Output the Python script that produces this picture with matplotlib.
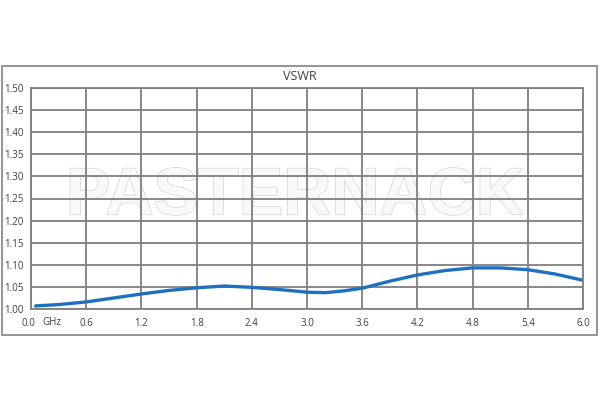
import matplotlib.pyplot as plt
import matplotlib.patheffects as pe
from matplotlib.patches import Rectangle
from matplotlib.transforms import ScaledTranslation

# VSWR readings
freq = [0.05, 0.3, 0.6, 0.9, 1.2, 1.5, 1.8, 2.1, 2.4, 2.7, 3.0, 3.2, 3.4, 3.6,
        3.9, 4.2, 4.5, 4.8, 5.1, 5.4, 5.7, 6.0]
vswr = [1.007, 1.010, 1.016, 1.025, 1.034, 1.042, 1.048, 1.052, 1.049, 1.044,
        1.038, 1.037, 1.041, 1.047, 1.063, 1.077, 1.087, 1.093, 1.093, 1.089,
        1.079, 1.065]
xticks = [0.0, 0.6, 1.2, 1.8, 2.4, 3.0, 3.6, 4.2, 4.8, 5.4, 6.0]
yticks = [1.00, 1.05, 1.10, 1.15, 1.20, 1.25, 1.30, 1.35, 1.40, 1.45, 1.50]

plt.rcParams['font.family'] = ['Open Sans', 'DejaVu Sans']
txt = '#404040'
grid = '#7f7f7f'

fig = plt.figure(figsize=(6, 4), dpi=100, facecolor='white')
fig.patches.append(Rectangle((2/600, 1-335/400), 595/600, 269/400,
                             transform=fig.transFigure, fill=False,
                             edgecolor='#8c8c8c', linewidth=1.3))
fig.text(300/600, 1-77/400, 'VSWR', ha='center', va='center',
         fontsize=9, color=txt)

ax = fig.add_axes([31/600, 1-309/400, 552/600, 221/400])
ax.set_xlim(0, 6.0)
ax.set_ylim(1.0, 1.5)
ax.set_xticks(xticks)
ax.set_xticklabels([f'{v:.1f}' for v in xticks], fontsize=7, color=txt)
ax.set_yticks(yticks)
ax.set_yticklabels([f'{v:.2f}' for v in yticks], fontsize=7, color=txt,
                   ha='left')
ax.tick_params(axis='y', length=0, pad=19)
ax.tick_params(axis='x', length=0, pad=6.5)
ax.grid(True, color=grid, linewidth=1.3)
for s in ax.spines.values():
    s.set_color(grid)
    s.set_linewidth(1.3)
ax.set_axisbelow(True)

# first x label sits a little left, unit beside it
lab0 = ax.get_xticklabels()[0]
lab0.set_transform(lab0.get_transform() +
                   ScaledTranslation(-3/100, 0, fig.dpi_scale_trans))
ax.text(0.021, -0.06, 'GHz', transform=ax.transAxes, fontsize=7,
        color=txt, ha='left', va='center')

wm = ax.text(0.478, 0.505, 'PASTERNACK', transform=ax.transAxes,
             ha='center', va='center', fontsize=48, fontweight='bold',
             family='Liberation Sans', color='#f9f9f9', zorder=0.2)
wm.set_path_effects([pe.Stroke(linewidth=1.0, foreground='#d4d4d4'),
                     pe.Normal()])

ax.plot(freq, vswr, color='#1f70c1', linewidth=2.4, solid_capstyle='round')

fig.savefig('out.png', dpi=100, facecolor='white')
